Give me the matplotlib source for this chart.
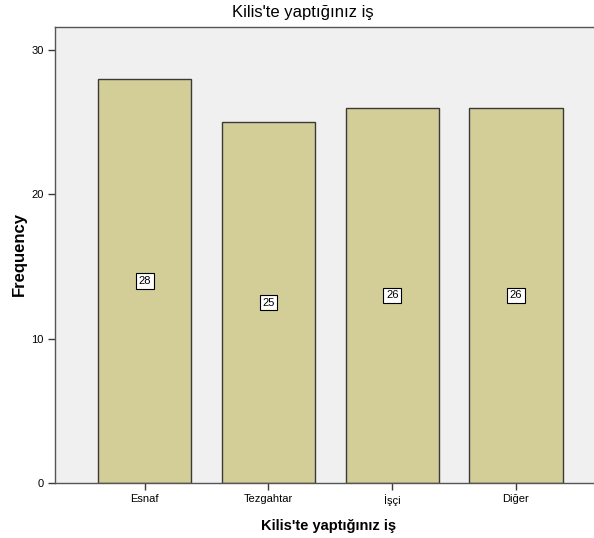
import matplotlib
matplotlib.use("Agg")
import matplotlib.pyplot as plt

categories = ["Esnaf", "Tezgahtar", "İşçi", "Diğer"]
values = [28, 25, 26, 26]
yticks = [0, 10, 20, 30]

plt.rcParams['font.family'] = ['Liberation Sans', 'DejaVu Sans']

fig = plt.figure(figsize=(5.94, 5.38), dpi=100)
ax = fig.add_axes([55/594, 55/538, 1.0 - 55/594 + 0.002, (483-27)/538])
ax.set_facecolor('#F0F0F0')

x = list(range(len(categories)))
ax.bar(x, values, width=0.753, color='#D3CE97', edgecolor='#3a3a3a', linewidth=1.0, zorder=2)
for xi, v in zip(x, values):
    ax.text(xi, v / 2, str(v), ha='center', va='center', fontsize=8,
            bbox=dict(boxstyle='square,pad=0.25', facecolor='white', edgecolor='black', linewidth=0.8),
            zorder=3)

ax.set_xlim(-0.725, 3.64)
ax.set_ylim(0, 31.6)
ax.set_xticks(x)
ax.set_xticklabels(categories, fontsize=8)
ax.set_yticks(yticks)
ax.set_yticklabels([str(t) for t in yticks], fontsize=8)
ax.tick_params(direction='out', length=5, width=1, color='#3a3a3a', pad=3)
for s in ax.spines.values():
    s.set_color('#555555')
    s.set_linewidth(1.0)

fig.text(303/594, 1 - 13/538, "Kilis'te yaptığınız iş", ha='center', va='center', fontsize=12)
fig.text(329/594, 1 - 526/538, "Kilis'te yaptığınız iş", ha='center', va='center', fontsize=10.5, fontweight='bold')
fig.text(19/594, 1 - 254/538, "Frequency", ha='center', va='center', rotation=90, fontsize=12, fontweight='bold')

fig.savefig("out.png", dpi=100)
